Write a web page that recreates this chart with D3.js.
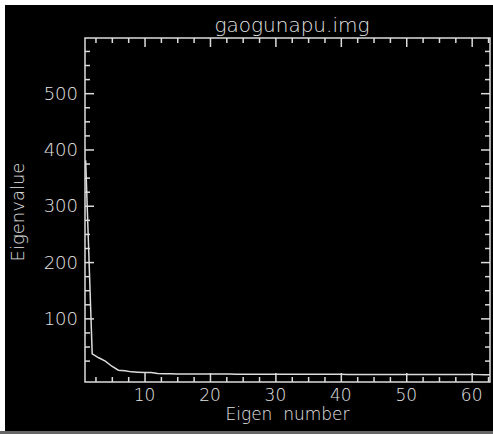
<!DOCTYPE html>
<html>
<head>
<meta charset="utf-8">
<script src="https://cdn.jsdelivr.net/npm/d3@7"></script>
<style>
  body { margin:0; background:#fff; }
  text { font-family:"DejaVu Sans", sans-serif; font-weight:200; fill:#e4e4e4; }
</style>
</head>
<body>
<svg id="graph"></svg>
<script>
// eigen values (index 1..63)
var eigenNumber = d3.range(1, 64)
var eigenValue = [381, 37, 30, 24, 15, 8, 7, 5, 4.5, 4,
  3.8, 2, 1.6, 1.5, 1.4, 1.3, 1.2, 1.2, 1.1, 1.1,
  1.0, 1.0, 1.0, 0.9, 0.9, 0.9, 0.9, 0.8, 0.8, 0.8,
  0.8, 0.7, 0.7, 0.7, 0.7, 0.6, 0.6, 0.6, 0.6, 0.6,
  0.5, 0.5, 0.5, 0.5, 0.5, 0.4, 0.4, 0.4, 0.4, 0.4,
  0.3, 0.3, 0.3, 0.3, 0.3, 0.2, 0.2, 0.2, 0.2, 0.2,
  0.1, 0.1, 0.1]
var xMajor = [10, 20, 30, 40, 50, 60]
var xMinor = [2.5, 5, 7.5, 12.5, 15, 17.5, 22.5, 25, 27.5, 32.5, 35, 37.5,
  42.5, 45, 47.5, 52.5, 55, 57.5, 62.5]
var yMajor = [100, 200, 300, 400, 500]
var yMinor = [25, 50, 75, 125, 150, 175, 225, 250, 275, 325, 350, 375,
  425, 450, 475, 525, 550, 575]
var title = "gaogunapu.img"
var xTitle = "Eigen  number"
var yTitle = "Eigenvalue"

var screen = {width:493, height:434}
var plot = {left:85, right:490, top:38, bottom:382}
var ink = "#dcdcdc"

var svg = d3.select("#graph")
  .attr("width", screen.width)
  .attr("height", screen.height)

svg.append("rect")
  .attr("x", 5).attr("y", 5)
  .attr("width", 488).attr("height", 426)
  .attr("fill", "#000")
svg.append("rect")
  .attr("x", 0).attr("y", 431)
  .attr("width", 493).attr("height", 3)
  .attr("fill", "#666")

var xScale = d3.scaleLinear()
  .domain([0.9, 62.8])
  .range([plot.left, plot.right])

var yScale = d3.scaleLinear()
  .domain([-13, 598])
  .range([plot.bottom, plot.top])

var addAxis = function(gen, values, size, tx, ty)
{
  var g = svg.append("g")
    .attr("transform", "translate(" + tx + "," + ty + ")")
    .call(gen.tickValues(values).tickSize(size).tickFormat(""))
  g.select(".domain").remove()
  g.selectAll("line").attr("stroke", ink).attr("stroke-width", 1.5)
  return g
}

// ticks on all four sides, pointing inward
addAxis(d3.axisBottom(xScale), xMajor, -9, 0, plot.bottom)
addAxis(d3.axisBottom(xScale), xMinor, -5, 0, plot.bottom)
addAxis(d3.axisTop(xScale), xMajor, -9, 0, plot.top)
addAxis(d3.axisTop(xScale), xMinor, -5, 0, plot.top)
addAxis(d3.axisLeft(yScale), yMajor, -9, plot.left, 0)
addAxis(d3.axisLeft(yScale), yMinor, -5, plot.left, 0)
addAxis(d3.axisRight(yScale), yMajor, -9, plot.right, 0)
addAxis(d3.axisRight(yScale), yMinor, -5, plot.right, 0)

svg.append("clipPath").attr("id", "clip")
  .append("rect")
  .attr("x", plot.left).attr("y", plot.top)
  .attr("width", plot.right - plot.left)
  .attr("height", plot.bottom - plot.top)

var line = d3.line()
  .x(function(d, i){ return xScale(eigenNumber[i]) })
  .y(function(d){ return yScale(d) })

svg.append("path")
  .datum(eigenValue)
  .attr("clip-path", "url(#clip)")
  .attr("d", line)
  .attr("fill", "none")
  .attr("stroke", ink)
  .attr("stroke-width", 1.5)

svg.append("rect")
  .attr("x", plot.left).attr("y", plot.top)
  .attr("width", plot.right - plot.left)
  .attr("height", plot.bottom - plot.top)
  .attr("fill", "none")
  .attr("stroke", ink)
  .attr("stroke-width", 1.5)

// labels
svg.selectAll(".xlab")
  .data(xMajor)
  .enter()
  .append("text")
  .attr("x", function(d){ return xScale(d) })
  .attr("y", 401)
  .attr("text-anchor", "middle")
  .attr("font-size", 17)
  .text(function(d){ return d })

svg.selectAll(".ylab")
  .data(yMajor)
  .enter()
  .append("text")
  .attr("x", 78)
  .attr("y", function(d){ return yScale(d) + 6.5 })
  .attr("text-anchor", "end")
  .attr("font-size", 18)
  .text(function(d){ return d })

svg.append("text")
  .attr("x", 287.5).attr("y", 420)
  .attr("text-anchor", "middle")
  .attr("font-size", 17)
  .style("white-space", "pre")
  .text(xTitle)

svg.append("text")
  .attr("transform", "translate(24,212) rotate(-90)")
  .attr("text-anchor", "middle")
  .attr("font-size", 18)
  .text(yTitle)

svg.append("text")
  .attr("x", 292).attr("y", 32)
  .attr("text-anchor", "middle")
  .attr("font-size", 20)
  .text(title)
</script>
</body>
</html>
